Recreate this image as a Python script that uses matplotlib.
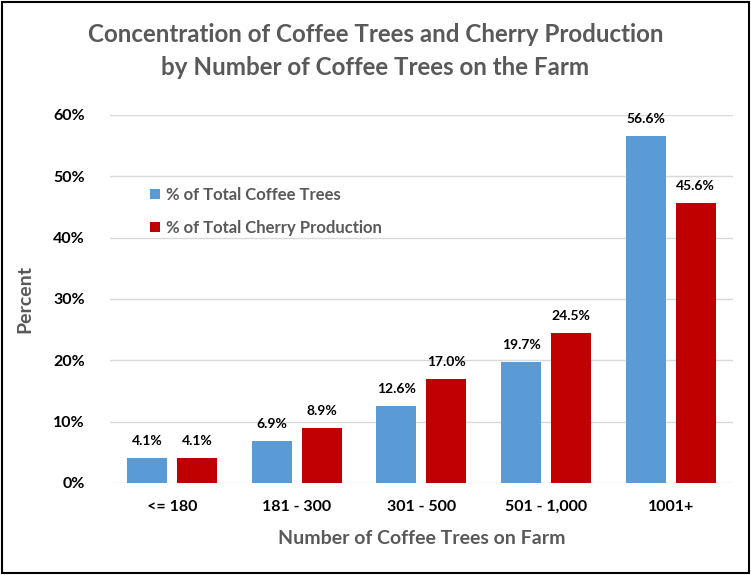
import numpy as np
import matplotlib
matplotlib.use('Agg')
import matplotlib.pyplot as plt
from matplotlib.patches import Rectangle

plt.rcParams['font.family'] = ['Lato', 'DejaVu Sans']

categories = ['<= 180', '181 - 300', '301 - 500', '501 - 1,000', '1001+']
trees_pct = [4.1, 6.9, 12.6, 19.7, 56.6]
cherry_pct = [4.1, 8.9, 17.0, 24.5, 45.6]
yticks = [0, 10, 20, 30, 40, 50, 60]

blue = '#5B9BD5'
red = '#C00000'
gray = '#595959'

fig = plt.figure(figsize=(7.51, 5.75), dpi=100)
ax = fig.add_axes([0.146, 0.16, 0.83, 0.64])

x = np.arange(len(categories))
w = 0.32
b1 = ax.bar(x - 0.2, trees_pct, w, color=blue, label='% of Total Coffee Trees', zorder=3)
b2 = ax.bar(x + 0.2, cherry_pct, w, color=red, label='% of Total Cherry Production', zorder=3)

for bars, vals in [(b1, trees_pct), (b2, cherry_pct)]:
    for r, v in zip(bars, vals):
        ax.annotate(f'{v:.1f}%', (r.get_x() + r.get_width() / 2, v),
                    xytext=(0, 8), textcoords='offset points',
                    ha='center', va='bottom', fontsize=10, fontweight='bold', color='black')

ax.set_ylim(0, 60)
ax.set_xlim(-0.5, len(categories) - 0.5)
ax.set_yticks(yticks)
ax.set_yticklabels([f'{t}%' for t in yticks], fontsize=11.5, fontweight='bold')
ax.set_xticks(x)
ax.set_xticklabels(categories, fontsize=11.5, fontweight='bold')
ax.tick_params(length=0, pad=12)
ax.tick_params(axis='y', pad=18)
ax.grid(axis='y', color='#D9D9D9', linewidth=1, zorder=0)
for s in ax.spines.values():
    s.set_visible(False)

ax.set_ylabel('Percent', fontsize=14, fontweight='bold', color=gray, labelpad=14)
ax.set_xlabel('Number of Coffee Trees on Farm', fontsize=14, fontweight='bold', color=gray, labelpad=12)

fig.suptitle('Concentration of Coffee Trees and Cherry Production\nby Number of Coffee Trees on the Farm',
             y=0.96, fontsize=17.4, fontweight='bold', color=gray, linespacing=1.55)

leg = ax.legend(loc='upper left', bbox_to_anchor=(0.04, 0.845), frameon=False,
                fontsize=12, handlelength=0.6, handleheight=0.6, handletextpad=0.4,
                labelspacing=1.0)
for t in leg.get_texts():
    t.set_color(gray)
    t.set_fontweight('bold')

fig.patches.append(Rectangle((0.002, 0.004), 0.995, 0.993, transform=fig.transFigure,
                             fill=False, edgecolor='black', linewidth=1.5))

fig.savefig('out.png', dpi=100)
